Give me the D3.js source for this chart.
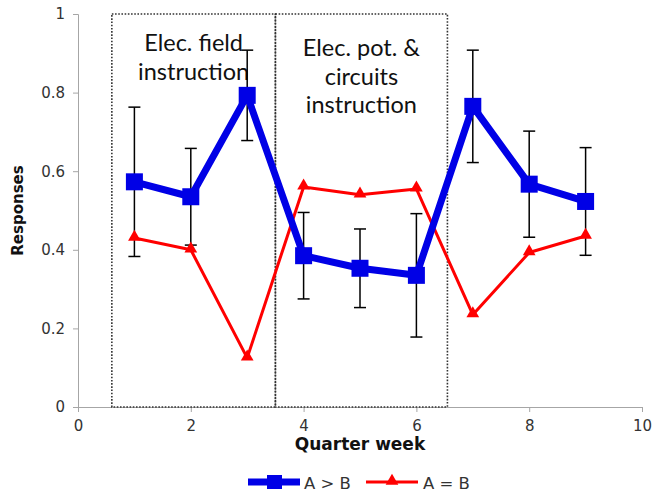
<!DOCTYPE html>
<html><head><meta charset="utf-8">
<script src="https://cdn.jsdelivr.net/npm/d3@7"></script>
<style>body{margin:0;background:#fff}svg{display:block}</style>
</head><body>
<svg id="c" width="652" height="495"></svg>
<script>
const weeks = [1,2,3,4,5,6,7,8,9];
const aGreaterB = [0.573,0.535,0.793,0.385,0.353,0.335,0.765,0.567,0.523];
const aGreaterBErr = [0.19,0.123,0.115,0.11,0.1,0.157,0.143,0.135,0.137];
const aEqualB = [0.43,0.40,0.125,0.56,0.54,0.555,0.235,0.393,0.435];
const xTicks = [0,2,4,6,8,10];
const yTicks = [0,0.2,0.4,0.6,0.8,1];
const regions = [
  {x0:0.6, x1:3.5, lines:["Elec. field","instruction"], top:37},
  {x0:3.5, x1:6.55, lines:["Elec. pot. &","circuits","instruction"], top:42}
];

const svg = d3.select("#c");
const L=78,R=642,T=14,B=407;
const x = d3.scaleLinear().domain([0,10]).range([L,R]);
const y = d3.scaleLinear().domain([0,1]).range([B,T]);
const tickFont = "'DejaVu Sans', Verdana, sans-serif";

// axes
const xAx = svg.append("g").attr("transform",`translate(0,${B})`)
  .call(d3.axisBottom(x).tickValues(xTicks).tickSize(5).tickPadding(8).tickFormat(d3.format("d")));
const yAx = svg.append("g").attr("transform",`translate(${L},0)`)
  .call(d3.axisLeft(y).tickValues(yTicks).tickSize(5).tickPadding(8).tickFormat(d=>d===0||d===1?String(d):d3.format(".1f")(d)));
[xAx,yAx].forEach(g=>{
  g.selectAll("path,line").attr("stroke","#a6a6a6");
  g.selectAll("text").attr("fill","#333").style("font-family",tickFont).style("font-size","15px");
});

// dotted region boxes
regions.forEach(r=>{
  svg.append("rect").attr("x",x(r.x0)).attr("y",y(1)).attr("width",x(r.x1)-x(r.x0)).attr("height",y(0)-y(1))
    .attr("fill","none").attr("stroke","#333").attr("stroke-width",1.6).attr("stroke-dasharray","1.6,1.6");
  const cx=(x(r.x0)+x(r.x1))/2;
  const t=svg.append("text").attr("text-anchor","middle").attr("fill","#111")
    .style("font-family","Lato, 'Open Sans', sans-serif").style("font-size","23.5px");
  r.lines.forEach((s,i)=>t.append("tspan").attr("x",cx).attr("y",y(1)+r.top+i*28.7).text(s));
});

// error bars
const eb = svg.append("g").attr("stroke","#000").attr("stroke-width",1.5);
weeks.forEach((w,i)=>{
  const top=y(aGreaterB[i]+aGreaterBErr[i]), bot=y(aGreaterB[i]-aGreaterBErr[i]);
  eb.append("line").attr("x1",x(w)).attr("x2",x(w)).attr("y1",top).attr("y2",bot);
  eb.append("line").attr("x1",x(w)-6).attr("x2",x(w)+6).attr("y1",top).attr("y2",top);
  eb.append("line").attr("x1",x(w)-6).attr("x2",x(w)+6).attr("y1",bot).attr("y2",bot);
});

// red series
const line = d3.line().x(d=>x(d[0])).y(d=>y(d[1]));
svg.append("path").datum(weeks.map((w,i)=>[w,aEqualB[i]])).attr("d",line)
  .attr("fill","none").attr("stroke","#ff0000").attr("stroke-width",3).attr("stroke-linejoin","round");
const tri = d3.symbol().type(d3.symbolTriangle).size(70);
svg.append("g").selectAll("path").data(weeks).join("path")
  .attr("d",tri).attr("transform",(w,i)=>`translate(${x(w)},${y(aEqualB[i])-1})`).attr("fill","#ff0000");

// blue series
svg.append("path").datum(weeks.map((w,i)=>[w,aGreaterB[i]])).attr("d",line)
  .attr("fill","none").attr("stroke","#0000e6").attr("stroke-width",7).attr("stroke-linejoin","round");
svg.append("g").selectAll("rect").data(weeks).join("rect")
  .attr("x",w=>x(w)-8.5).attr("y",(w,i)=>y(aGreaterB[i])-8.5).attr("width",17).attr("height",17).attr("fill","#0000e6");

// axis titles
svg.append("text").attr("x",360).attr("y",450).attr("text-anchor","middle")
  .style("font-family",tickFont).style("font-weight","bold").style("font-size","17px").attr("fill","#111").text("Quarter week");
svg.append("text").attr("transform",`translate(23,${(T+B)/2}) rotate(-90)`).attr("text-anchor","middle")
  .style("font-family",tickFont).style("font-weight","bold").style("font-size","15px").attr("fill","#111").text("Responses");

// legend
const lg = svg.append("g");
lg.append("line").attr("x1",248).attr("x2",300).attr("y1",482).attr("y2",482).attr("stroke","#0000e6").attr("stroke-width",7);
lg.append("rect").attr("x",267).attr("y",475).attr("width",15).attr("height",14).attr("fill","#0000e6");
lg.append("text").attr("x",304).attr("y",489).style("font-family",tickFont).style("font-size","16.5px").attr("fill","#333").text("A > B");
lg.append("line").attr("x1",366).attr("x2",418).attr("y1",482).attr("y2",482).attr("stroke","#ff0000").attr("stroke-width",3);
lg.append("path").attr("d",tri).attr("transform","translate(392,481)").attr("fill","#ff0000");
lg.append("text").attr("x",423).attr("y",489).style("font-family",tickFont).style("font-size","16.5px").attr("fill","#333").text("A = B");
</script>
</body></html>
